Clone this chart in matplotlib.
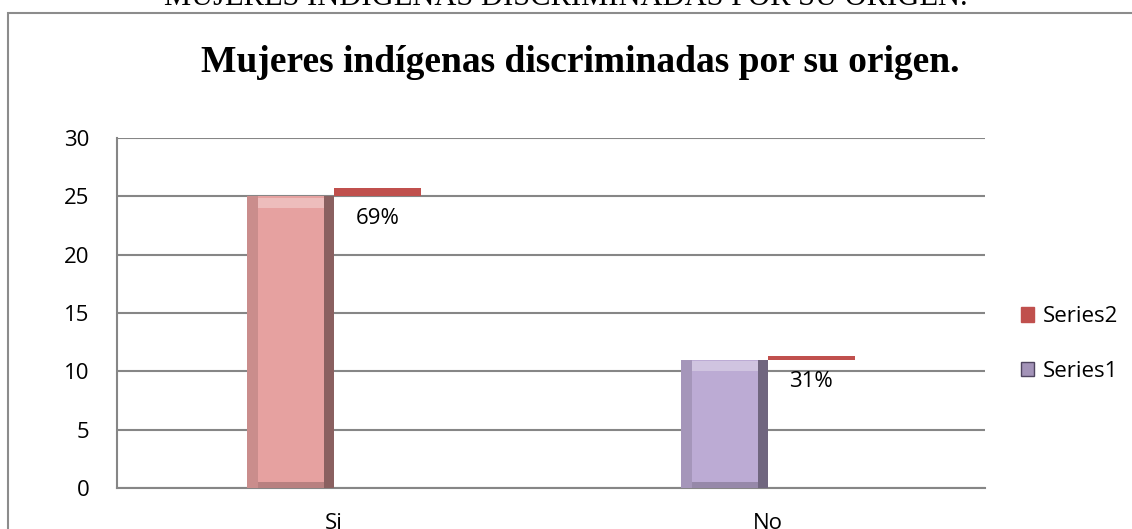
import numpy as np
import matplotlib.pyplot as plt
from matplotlib.patches import Rectangle, Patch

categories = ["Si", "No"]
series1 = [25, 11]
series2 = [0.69, 0.31]
pct_labels = ["69%", "31%"]
series1_colors = ["#E6A1A0", "#BCABD4"]
series2_color = "#C0504D"

fig = plt.figure(figsize=(11.32, 5.29), dpi=100)
W, H = 1132, 529

# outer chart frame (runs off right and bottom edges)
fig.patches.append(Rectangle((8 / W, -0.01), 1.02, 1 - 13 / H + 0.01, transform=fig.transFigure,
                             fill=False, edgecolor="#8c8c8c", linewidth=1.5))

# heading from the document, clipped at top
fig.text(0.5, 1 - 5 / H, "MUJERES INDÍGENAS DISCRIMINADAS POR SU ORIGEN.", ha="center", va="baseline",
         fontsize=22, family="Liberation Serif", color="black")

fig.text(580 / W, 1 - 62 / H, "Mujeres indígenas discriminadas por su origen.", ha="center", va="center",
         fontsize=27, fontweight="bold", family="Liberation Serif")

ax = fig.add_axes([117 / W, 1 - 488 / H, (985 - 117) / W, (488 - 138) / H])
x = np.arange(len(categories))
w = 0.2

b1 = ax.bar(x - w / 2, series1, width=w, color=series1_colors, zorder=3)
# bevel shading: dark right edge, light top strip
ax.bar(x - w / 2 + w * 0.44, series1, width=w * 0.12, color="#000000", alpha=0.4, zorder=4)
ax.bar(x - w / 2 - w * 0.44, series1, width=w * 0.12, color="#000000", alpha=0.12, zorder=4)
ax.bar(x - w / 2, [0.9, 0.9], bottom=np.array(series1) - 1.0, width=w * 0.76, color="white", alpha=0.3, zorder=4)
ax.bar(x - w / 2, [0.5, 0.5], width=w * 0.76, color="black", alpha=0.2, zorder=4)

b2 = ax.bar(x + w / 2, series2, bottom=series1, width=w, color=series2_color, zorder=3)
for i, lab in enumerate(pct_labels):
    ax.text(x[i] + w / 2, series1[i] - 1.9, lab, ha="center", va="center", fontsize=16,
            family="Open Sans", color="black")

ax.set_xlim(-0.5, 1.5)
ax.set_ylim(0, 30)
ax.set_yticks(range(0, 31, 5))
ax.grid(axis="y", color="#868686", linewidth=1.5, zorder=0)
for s in ["top", "right"]:
    ax.spines[s].set_visible(False)
for s in ["left", "bottom"]:
    ax.spines[s].set_color("#868686")
    ax.spines[s].set_linewidth(1.5)
ax.tick_params(length=0, labelsize=16, pad=20)
ax.tick_params(axis="x", pad=18)
ax.set_xticks(x)
ax.set_xticklabels(categories)
for t in ax.get_xticklabels() + ax.get_yticklabels():
    t.set_family("Open Sans")

handles = [Patch(color=series2_color, label="Series2"), Patch(facecolor="#A393B8", edgecolor="#4f4560", label="Series1")]
fig.legend(handles=handles, loc="center left", bbox_to_anchor=(1001 / W, 1 - 344 / H), frameon=False,
           prop={"family": "Open Sans", "size": 16}, handlelength=0.6, handleheight=0.6, handletextpad=0.4,
           labelspacing=1.5)

fig.savefig("out.png", dpi=100)
